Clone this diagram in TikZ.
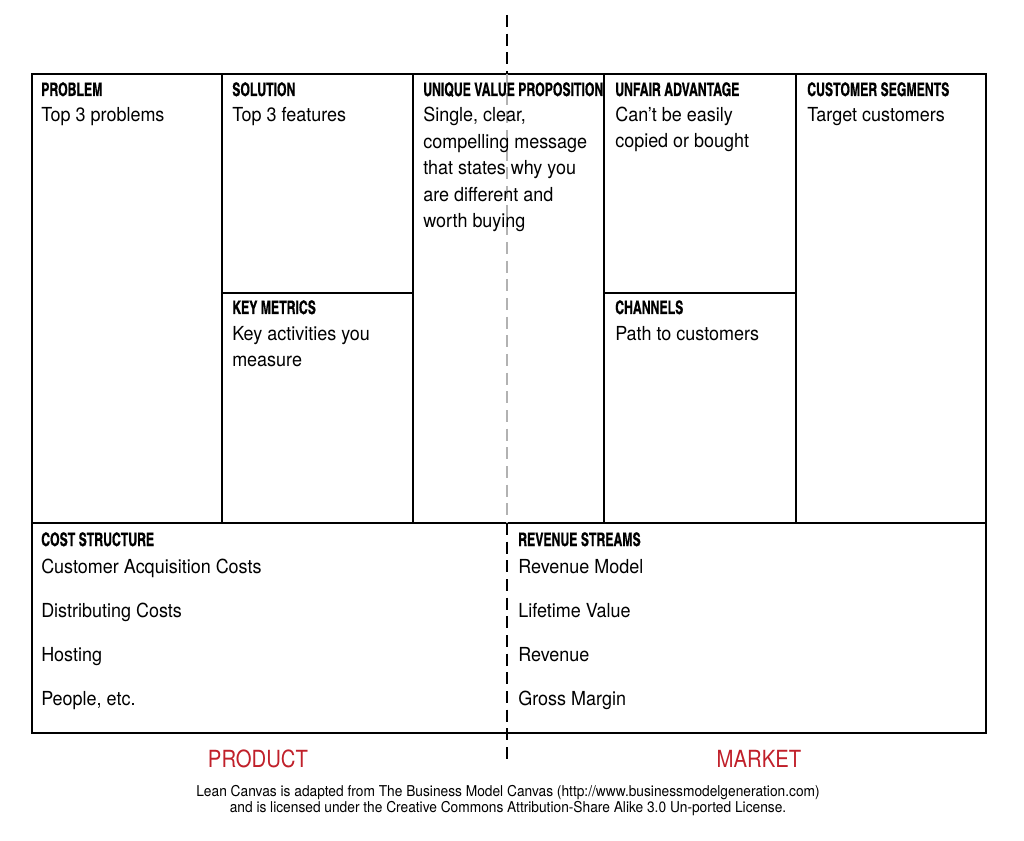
\documentclass[tikz,border=0pt]{standalone}
\usepackage{fontspec}
\setmainfont{TeX Gyre Heros}
\newfontfamily\bodyfont[FakeStretch=0.93]{TeX Gyre Heros}
\newfontfamily\sidefont[FakeStretch=0.86]{TeX Gyre Heros}
\newfontfamily\creditfont[FakeStretch=0.92]{TeX Gyre Heros}
\newfontfamily\headfont[Extension=.otf,UprightFont=*-bold,FakeStretch=0.8,FakeBold=0.6]{texgyreheroscn}
\definecolor{canvasred}{HTML}{C0202A}
\begin{document}
\begin{tikzpicture}[x=0.75pt, y=-0.75pt,
		head/.style={anchor=base west, inner sep=0pt, font=\headfont\fontsize{14}{14}\selectfont},
		body/.style={anchor=base west, inner sep=0pt, align=left, font=\bodyfont\fontsize{14.5}{19.9}\selectfont},
		side/.style={anchor=base, inner sep=0pt, text=canvasred, font=\sidefont\fontsize{17.7}{17.7}\selectfont},
		credit/.style={anchor=base, inner sep=0pt, align=center, font=\creditfont\fontsize{11.2}{9.6}\selectfont}]
	\useasboundingbox (0,0) rectangle (1024,841);
	% canvas grid
	\draw[line width=1.5pt] (32,74) rectangle (986,733);
	\draw[line width=1.1pt] (32,523) -- (986,523);
	\foreach \x in {222, 413, 604, 796}
		\draw[line width=1.1pt] (\x,74) -- (\x,523);
	\draw[line width=1.1pt] (222,293) -- (413,293);
	\draw[line width=1.1pt] (604,293) -- (796,293);
	% product / market divide
	\draw[line width=1.8pt, dash pattern=on 9pt off 5pt] (507,15) -- (507,74);
	\draw[line width=1.5pt, black!30, dash pattern=on 9pt off 5pt] (507,74) -- (507,523);
	\draw[line width=1.8pt, dash pattern=on 9pt off 5pt] (507,523) -- (507,765);
	% top row (multi-line texts sit on the baseline of their last line)
	\node (problem) at (41,96) [head] {PROBLEM};
	\node (problemtxt) at (41,122) [body] {Top 3 problems};
	\node (solution) at (232,96) [head] {SOLUTION};
	\node (solutiontxt) at (232,122) [body] {Top 3 features};
	\node (uvp) at (423,96) [head] {UNIQUE VALUE PROPOSITION};
	\node (uvptxt) at (423,228) [body] {Single, clear,\\compelling message\\that states why you\\are different and\\worth buying};
	\node (unfair) at (615,96) [head] {UNFAIR ADVANTAGE};
	\node (unfairtxt) at (615,148) [body] {Can’t be easily\\copied or bought};
	\node (segments) at (807,96) [head] {CUSTOMER SEGMENTS};
	\node (segmentstxt) at (807,122) [body] {Target customers};
	\node (metrics) at (232,314) [head] {KEY METRICS};
	\node (metricstxt) at (232,367) [body] {Key activities you\\measure};
	\node (channels) at (615,314) [head] {CHANNELS};
	\node (channelstxt) at (615,341) [body] {Path to customers};
	% bottom row
	\node (cost) at (41,546) [head] {COST STRUCTURE};
	\node (revenue) at (518,546) [head] {REVENUE STREAMS};
	\foreach \txt [count=\i] in {Customer Acquisition Costs, Distributing Costs, Hosting, {People, etc.}}
		\node (cost\i) at (41,529+44*\i) [body] {\txt};
	\foreach \txt [count=\i] in {Revenue Model, Lifetime Value, Revenue, Gross Margin}
		\node (revenue\i) at (518,529+44*\i) [body] {\txt};
	% labels under the canvas
	\node (product) at (258,767) [side] {PRODUCT};
	\node (market) at (759,767) [side] {MARKET};
	\node (credit) at (508,812) [credit] {Lean Canvas is adapted from The Business Model Canvas (http://www.businessmodelgeneration.com)\\and is licensed under the Creative Commons Attribution-Share Alike 3.0 Un-ported License.};
\end{tikzpicture}
\end{document}
